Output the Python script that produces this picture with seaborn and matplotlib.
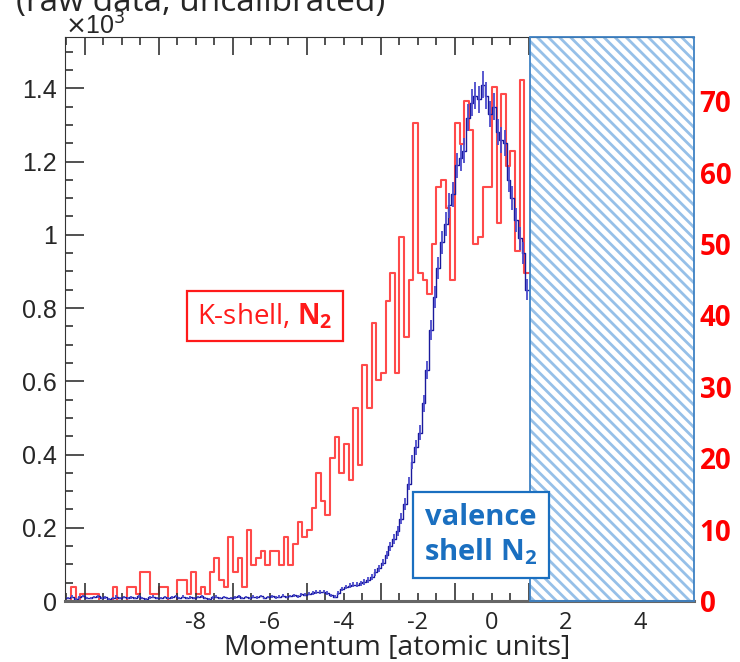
import numpy as np
import pandas as pd
import matplotlib
matplotlib.use('Agg')
import matplotlib.pyplot as plt
from matplotlib.ticker import MultipleLocator, FuncFormatter
import seaborn as sns

sns.set_style('white')
plt.rcParams['font.family'] = ['Liberation Sans', 'DejaVu Sans']
plt.rcParams['mathtext.fontset'] = 'custom'
plt.rcParams['mathtext.rm'] = 'Open Sans'
plt.rcParams['mathtext.bf'] = 'Open Sans:bold'
plt.rcParams['hatch.linewidth'] = 2.0

# K-shell N2 counts (right axis), bins of 0.125 a.u. from -11.5 to 1.0
kshell_counts = [0, 2, 0, 1, 1, 1, 1, 0, 0, 0,
                 2, 0, 0, 2, 2, 1, 4, 4, 1, 1,
                 2, 2, 0, 0, 3, 3, 1, 4, 1, 2,
                 1, 4, 6, 3, 2, 9, 4, 6, 2, 10,
                 5, 6, 7, 5, 7, 7, 5, 9, 5, 8,
                 11, 9, 10, 13, 18, 14, 12, 20, 23, 18,
                 22, 17, 27, 19, 33, 27, 39, 31, 32, 42,
                 46, 32, 51, 37, 45, 67, 46, 45, 43, 50,
                 58, 59, 55, 45, 67, 64, 70, 66, 50, 51,
                 58, 58, 72, 53, 71, 61, 63, 49, 73, 46]

# valence shell N2 counts (left axis), bins of 0.1 a.u. from -11.5 to 1.0
valence_counts = [8, 12, 6, 10, 14, 9, 7, 11, 13, 8,
                  10, 6, 9, 12, 8, 11, 7, 10, 9, 13,
                  8, 6, 10, 12, 9, 7, 11, 8, 10, 14,
                  9, 12, 7, 10, 8, 11, 13, 9, 6, 10,
                  12, 8, 11, 9, 7, 10, 13, 9, 11, 8,
                  12, 10, 14, 9, 11, 13, 10, 12, 15, 11,
                  14, 16, 13, 18, 17,
                  20, 22, 25, 24, 26, 22, 16, 12, 22, 32,
                  38, 42, 45, 44, 48, 52, 58, 66, 78, 90,
                  105, 125, 150, 170, 190, 225, 265, 320, 380, 420,
                  460, 540, 630, 740, 830, 910, 980, 1030, 1080, 1110,
                  1190, 1210, 1230, 1320, 1360, 1380, 1370, 1410, 1380, 1330,
                  1350, 1280, 1260, 1250, 1150, 1100, 1040, 990, 950, 850]

x_range = (-11.5, 1.0)
cut_start = 1.03
x_lim = (-11.54, 5.46)
left_lim = (0, 1540)
right_lim = (0, 79)
label_ticks = [-8, -6, -4, -2, 0, 2, 4]

red_edges = np.linspace(x_range[0], x_range[1], len(kshell_counts) + 1).tolist()
blue_edges = np.linspace(x_range[0], x_range[1], len(valence_counts) + 1).tolist()
red_df = pd.DataFrame({'p': (np.array(red_edges[:-1]) + np.array(red_edges[1:])) / 2,
                       'n': kshell_counts})
blue_df = pd.DataFrame({'p': (np.array(blue_edges[:-1]) + np.array(blue_edges[1:])) / 2,
                        'n': valence_counts})

fig = plt.figure(figsize=(7.4, 6.62), dpi=100)
ax = fig.add_axes([0.0878, 0.0921, 0.85, 0.852])
ax2 = ax.twinx()

# red K-shell histogram on right axis
sns.histplot(data=red_df, x='p', weights='n', bins=red_edges, element='step',
             fill=False, color='#ff4a4a', linewidth=1.5, ax=ax2)

# blue valence histogram with error bars on left axis
sns.histplot(data=blue_df, x='p', weights='n', bins=blue_edges, element='step',
             fill=False, color='#1a1a9c', linewidth=1.0, ax=ax)
ax.errorbar(blue_df['p'], blue_df['n'], yerr=np.sqrt(blue_df['n']), fmt='none',
            ecolor='#4b4bcc', elinewidth=1.3)

ax.set_zorder(ax2.get_zorder() + 1)
ax.patch.set_visible(False)

# hatched excluded region
ax.axvspan(cut_start, x_lim[1], facecolor='white', edgecolor='#96c0e8',
           hatch='\\\\\\', linewidth=0, zorder=1)
ax.axvspan(cut_start, x_lim[1], facecolor='none', edgecolor='#3f82c4',
           linewidth=1.3, zorder=3, clip_on=False)

ax.set_xlim(*x_lim)
ax.set_ylim(*left_lim)
ax2.set_ylim(*right_lim)
ax.set_xlabel('')
ax.set_ylabel('')
ax2.set_ylabel('')

# spines
ax.spines['right'].set_visible(False)
for sp in ax2.spines.values():
    sp.set_visible(False)
ax.spines['left'].set_color('#333333')
ax.spines['top'].set_color('#333333')
ax.spines['bottom'].set_color('#666666')
ax.spines['bottom'].set_linewidth(2.2)

# left axis ticks
ax.yaxis.set_major_locator(MultipleLocator(200))
ax.yaxis.set_minor_locator(MultipleLocator(50))
ax.yaxis.set_major_formatter(FuncFormatter(lambda v, p: f'{v / 1000:g}'))
ax.tick_params(axis='y', which='major', direction='in', length=14, width=1.2,
               color='#333333', labelsize=18, pad=6, left=True)
ax.tick_params(axis='y', which='minor', direction='in', length=6, width=1.2,
               color='#333333', left=True)

# bottom ticks (unlabelled), labels from a secondary axis
ax.xaxis.set_major_locator(MultipleLocator(2, offset=1))
ax.xaxis.set_minor_locator(MultipleLocator(0.5))
ax.tick_params(axis='x', which='major', direction='in', length=13, width=1.2,
               color='#333333', labelbottom=False, bottom=True)
ax.tick_params(axis='x', which='minor', direction='in', length=6, width=1.2,
               color='#333333', bottom=True)

bot = ax.secondary_xaxis('bottom')
bot.set_xticks(label_ticks)
bot.set_xticklabels([str(t) for t in label_ticks])
bot.tick_params(length=0, pad=7, labelsize=17)
for lab in bot.get_xticklabels():
    lab.set_family('Open Sans')
for sp in bot.spines.values():
    sp.set_visible(False)

top = ax.secondary_xaxis('top')
top.set_xticks(np.arange(-11, 2, 2))
top.set_xticks(np.arange(-11.5, 1.1, 0.5), minor=True)
top.tick_params(which='major', direction='in', length=13, width=1.2,
                color='#333333', labeltop=False)
top.tick_params(which='minor', direction='in', length=6, width=1.2,
                color='#333333')
for sp in top.spines.values():
    sp.set_visible(False)

# right axis labels
ax2.set_yticks(range(0, 71, 10))
ax2.tick_params(axis='y', length=0, pad=4, labelsize=20, labelcolor='#ff0000')
for lab in ax2.get_yticklabels():
    lab.set_family('Open Sans')
    lab.set_weight('bold')

# texts
fig.text(0.088, 1 - 35 / 662, r'$\times$10$^3$', fontsize=18, ha='left', va='baseline',
         family='Liberation Sans', math_fontfamily='dejavusans')
fig.text(385 / 740, 1 - 11 / 662, '(raw data, uncalibrated)', fontsize=24,
         ha='right', va='baseline', family='Open Sans')
fig.text(397 / 740, 1 - 655 / 662, 'Momentum [atomic units]', fontsize=20.5,
         ha='center', va='baseline', family='Open Sans')

fig.text(265 / 740, 1 - 316 / 662, r'K-shell, $\mathbf{N_2}$', fontsize=20,
         color='#ff1a1a', ha='center', va='center', family='Open Sans',
         bbox=dict(boxstyle='square,pad=0.38', fc='white', ec='#ff1a1a', lw=1.6))
fig.text(481 / 740, 1 - 535 / 662, 'valence\n' + r'shell $\mathbf{N_2}$', fontsize=21,
         color='#1a6fc0', ha='center', va='center', family='Open Sans', weight='bold',
         linespacing=1.2,
         bbox=dict(boxstyle='square,pad=0.38', fc='white', ec='#1a6fc0', lw=1.6))

fig.savefig('out.png', dpi=100)
